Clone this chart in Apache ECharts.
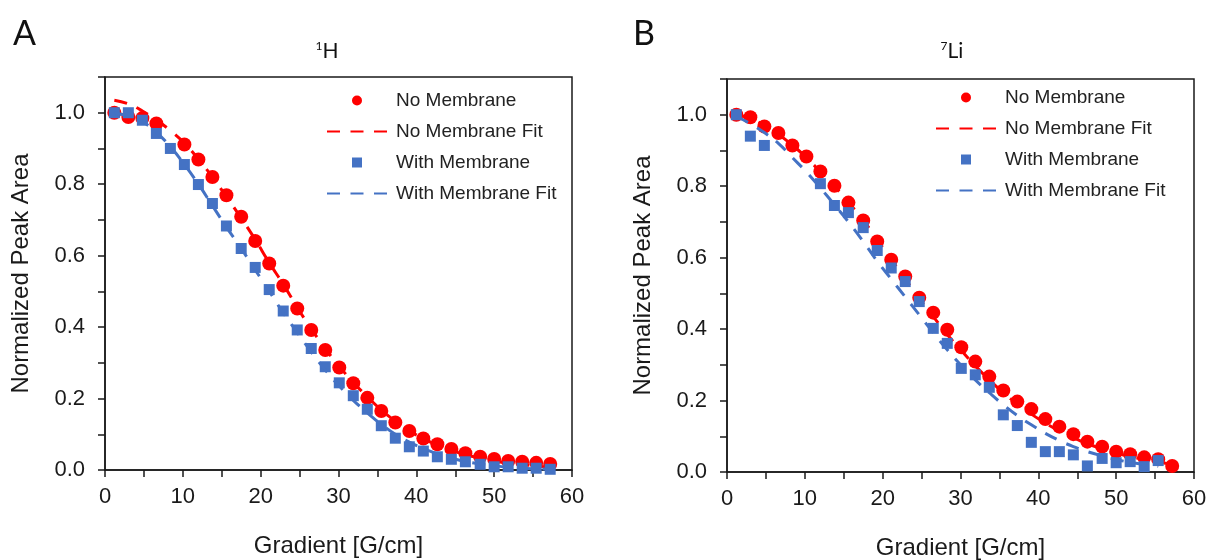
<!DOCTYPE html>
<html>
<head>
<meta charset="utf-8">
<script src="https://cdn.jsdelivr.net/npm/echarts@6/dist/echarts.min.js"></script>
<style>
html,body{margin:0;padding:0;background:#fff;}
#chart{width:1212px;height:560px;}
</style>
</head>
<body>
<div id="chart"></div>
<script>
// Gradient values (G/cm), shared by all series
const gradient = [1.2, 3.0, 4.8, 6.6, 8.4, 10.2, 12.0, 13.8, 15.6, 17.5, 19.3, 21.1, 22.9, 24.7, 26.5, 28.3,
                  30.1, 31.9, 33.7, 35.5, 37.3, 39.1, 40.9, 42.7, 44.5, 46.3, 48.2, 50.0, 51.8, 53.6, 55.4, 57.2];

// Panel A: 1H
const hNoMembrane = [1.0, 0.988, 0.985, 0.970, null, 0.911, 0.869, 0.820, 0.769, 0.709, 0.641, 0.578, 0.516, 0.452, 0.392, 0.336,
                     0.287, 0.243, 0.202, 0.165, 0.133, 0.109, 0.088, 0.072, 0.059, 0.047, 0.037, 0.031, 0.025, 0.023, 0.020, 0.017];
const hNoMembraneFit = [1.035, 1.025, 1.005, 0.98, 0.95, 0.915, 0.87, 0.82, 0.765, 0.705, 0.645, 0.58, 0.52, 0.455, 0.395, 0.34,
                        0.29, 0.245, 0.205, 0.168, 0.137, 0.11, 0.088, 0.07, 0.055, 0.043, 0.033, 0.025, 0.019, 0.015, 0.011, 0.008];
const hWithMembrane = [1.0, 1.0, 0.979, 0.942, 0.90, 0.855, 0.799, 0.746, 0.683, 0.620, 0.567, 0.505, 0.445, 0.392, 0.340, 0.289,
                       0.244, 0.208, 0.170, 0.124, 0.089, 0.065, 0.053, 0.037, 0.030, 0.023, 0.016, 0.009, 0.009, 0.005, 0.005, 0.002];
const hWithMembraneFit = [1.0, 0.99, 0.975, 0.945, 0.905, 0.855, 0.80, 0.74, 0.68, 0.62, 0.56, 0.50, 0.44, 0.385, 0.33, 0.28,
                          0.235, 0.195, 0.16, 0.128, 0.10, 0.078, 0.06, 0.045, 0.033, 0.024, 0.017, 0.012, 0.008, 0.005, 0.003, 0.002];

// Panel B: 7Li
const liNoMembrane = [1.0, 0.993, 0.967, 0.949, 0.914, 0.883, 0.841, 0.801, 0.754, 0.704, 0.645, 0.594, 0.547, 0.488, 0.446, 0.398,
                      0.349, 0.309, 0.267, 0.228, 0.197, 0.176, 0.148, 0.127, 0.106, 0.085, 0.071, 0.057, 0.050, 0.041, 0.036, 0.017];
const liNoMembraneFit = [1.0, 0.99, 0.97, 0.945, 0.915, 0.88, 0.84, 0.80, 0.755, 0.705, 0.65, 0.595, 0.54, 0.485, 0.435, 0.385,
                         0.34, 0.297, 0.258, 0.222, 0.19, 0.162, 0.137, 0.115, 0.096, 0.079, 0.065, 0.053, 0.043, 0.035, 0.028, 0.022];
const liWithMembrane = [1.0, 0.940, 0.914, null, null, null, 0.807, 0.746, 0.726, 0.684, 0.620, 0.571, 0.533, 0.477, 0.402, 0.360,
                        0.290, 0.272, 0.237, 0.160, 0.130, 0.083, 0.057, 0.057, 0.048, 0.017, 0.038, 0.026, 0.029, 0.015, 0.032, null];
const liWithMembraneFit = [0.995, 0.975, 0.95, 0.92, 0.88, 0.84, 0.795, 0.748, 0.70, 0.645, 0.59, 0.54, 0.49, 0.44, 0.39, 0.342,
                           0.298, 0.258, 0.222, 0.188, 0.158, 0.132, 0.108, 0.088, 0.071, 0.057, 0.045, 0.035, 0.027, 0.021, 0.016, null];

const xTicks = [0, 10, 20, 30, 40, 50, 60];
const yTicks = [0.0, 0.2, 0.4, 0.6, 0.8, 1.0];
const seriesNames = ['No Membrane', 'No Membrane Fit', 'With Membrane', 'With Membrane Fit'];
const panelLetters = ['A', 'B'];
const panelNuclei = [['1', 'H'], ['7', 'Li']];

const RED = '#FF0000', BLUE = '#4472C4', INK = '#1a1a1a';
const AX_FONT = 'Liberation Sans, Arial, sans-serif';
const DASH = [13, 10.5];

function pairs(ys) {
  const out = [];
  ys.forEach((y, i) => { if (y !== null && y !== undefined) out.push([gradient[i], y]); });
  return out;
}

const grids = [
  {left: 105, top: 77, width: 467, height: 393},
  {left: 727, top: 79, width: 467, height: 393}
];

function xAxisFor(i) {
  return {
    gridIndex: i, type: 'value', min: 0, max: 60, interval: 5,
    axisLine: {show: true, onZero: false, lineStyle: {color: INK, width: 1.5}},
    axisTick: {show: true, inside: false, length: 7, lineStyle: {color: INK, width: 1.5}},
    splitLine: {show: false},
    axisLabel: {
      margin: 16, fontSize: 22, color: INK, fontFamily: AX_FONT,
      formatter: v => xTicks.indexOf(Math.round(v)) >= 0 && Math.abs(v - Math.round(v)) < 1e-6 ? String(Math.round(v)) : ''
    },
    name: 'Gradient [G/cm]', nameLocation: 'middle', nameGap: 64,
    nameTextStyle: {fontSize: 24, color: INK, fontFamily: AX_FONT}
  };
}
function yAxisFor(i) {
  return {
    gridIndex: i, type: 'value', min: 0, max: 1.1, interval: 0.1,
    axisLine: {show: true, onZero: false, lineStyle: {color: INK, width: 1.5}},
    axisTick: {show: true, inside: false, length: 7, lineStyle: {color: INK, width: 1.5}},
    splitLine: {show: false},
    axisLabel: {
      margin: 20, fontSize: 22, color: INK, fontFamily: AX_FONT,
      formatter: v => {
        const hit = yTicks.find(t => Math.abs(t - v) < 1e-6);
        return hit === undefined ? '' : hit.toFixed(1);
      }
    },
    name: 'Normalized Peak Area', nameLocation: 'middle', nameGap: 72,
    nameTextStyle: {fontSize: 24, color: INK, fontFamily: AX_FONT}
  };
}

function panelSeries(i, noM, noMFit, withM, withMFit) {
  return [
    {name: seriesNames[0], type: 'scatter', xAxisIndex: i, yAxisIndex: i, data: pairs(noM),
     symbol: 'circle', symbolSize: 14, itemStyle: {color: RED, opacity: 1}, z: 2},
    {name: seriesNames[1], type: 'line', xAxisIndex: i, yAxisIndex: i, data: pairs(noMFit),
     smooth: 0.4, symbol: 'none', lineStyle: {color: RED, width: 3, type: DASH}, itemStyle: {color: RED}, z: 3},
    {name: seriesNames[2], type: 'scatter', xAxisIndex: i, yAxisIndex: i, data: pairs(withM),
     symbol: 'rect', symbolSize: 11, itemStyle: {color: BLUE, opacity: 1}, z: 4},
    {name: seriesNames[3], type: 'line', xAxisIndex: i, yAxisIndex: i, data: pairs(withMFit),
     smooth: 0.4, symbol: 'none', lineStyle: {color: BLUE, width: 3, type: DASH}, itemStyle: {color: BLUE}, z: 5}
  ];
}

function legendFor(left, top) {
  const clear = {color: 'rgba(0,0,0,0)', borderWidth: 0, opacity: 0};
  return {
    orient: 'vertical', left: left, top: top, itemWidth: 60, itemHeight: 10, itemGap: 12,
    selectedMode: false,
    textStyle: {fontSize: 19, color: '#222', fontFamily: AX_FONT, padding: [0, 0, 0, 4]},
    data: [
      {name: seriesNames[0], icon: 'circle'},
      {name: seriesNames[1], itemStyle: clear},
      {name: seriesNames[2], icon: 'path://M0,0h10v10h-10z'},
      {name: seriesNames[3], itemStyle: clear}
    ]
  };
}

function titleLetter(i, left) {
  return {text: panelLetters[i], left: left, top: 12,
          textStyle: {fontFamily: 'Lato, sans-serif', fontSize: 34, fontWeight: 'normal', color: '#111'}};
}
function titleNucleus(i, center) {
  return {
    text: '{s|' + panelNuclei[i][0] + '}{m|' + panelNuclei[i][1] + '}',
    left: center, textAlign: 'center', top: 35,
    textStyle: {
      fontWeight: 'normal',
      rich: {
        s: {fontFamily: 'Lato, sans-serif', fontSize: 12, fontWeight: 'normal', color: '#111', verticalAlign: 'top', lineHeight: 22},
        m: {fontFamily: 'Lato, sans-serif', fontSize: 21, fontWeight: 'normal', color: '#111', verticalAlign: 'bottom', lineHeight: 22}
      }
    }
  };
}

const chart = echarts.init(document.getElementById('chart'), null, {renderer: 'canvas'});
chart.setOption({
  animation: false,
  backgroundColor: '#ffffff',
  title: [titleLetter(0, 8), titleNucleus(0, 322), titleLetter(1, 628), titleNucleus(1, 947)],
  grid: grids.map(g => Object.assign({show: true, borderColor: INK, borderWidth: 1.5, backgroundColor: 'transparent',
                                      containLabel: false, outerBoundsMode: 'none'}, g)),
  xAxis: [xAxisFor(0), xAxisFor(1)],
  yAxis: [yAxisFor(0), yAxisFor(1)],
  legend: [legendFor(321, 86), legendFor(930, 83)],
  series: [].concat(
    panelSeries(0, hNoMembrane, hNoMembraneFit, hWithMembrane, hWithMembraneFit),
    panelSeries(1, liNoMembrane, liNoMembraneFit, liWithMembrane, liWithMembraneFit)
  )
});
</script>
</body>
</html>
